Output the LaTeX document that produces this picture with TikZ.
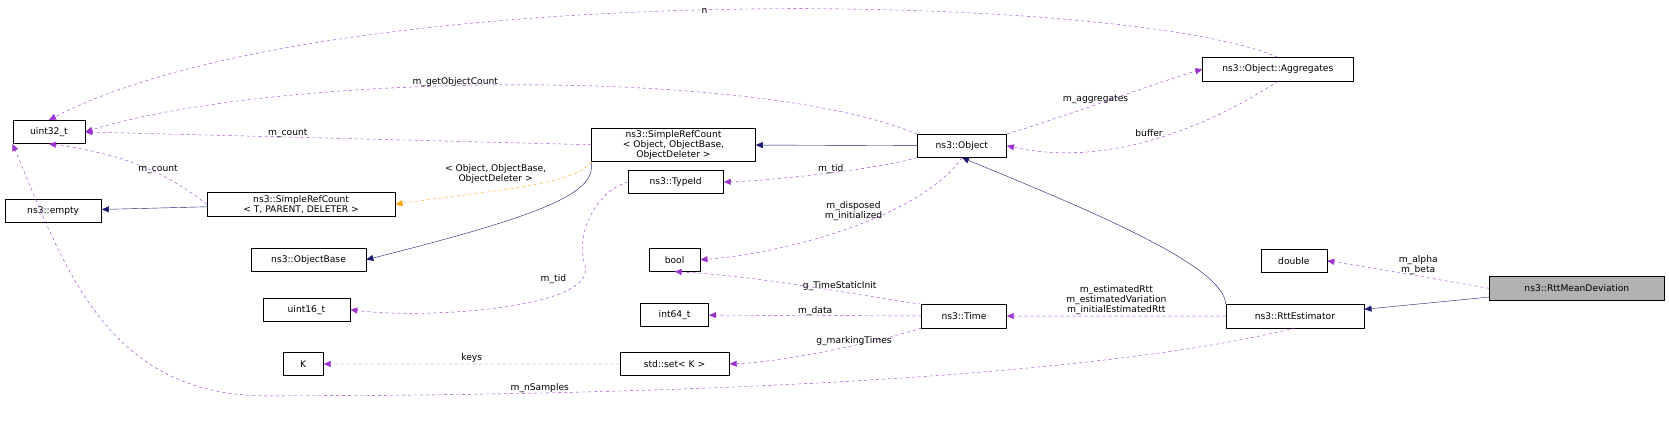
\documentclass[tikz,border=0pt]{standalone}
\usepackage{fontspec}
\setmainfont{DejaVu Sans}
\usetikzlibrary{arrows.meta, positioning}
\definecolor{usecol}{HTML}{9A32CD}
\definecolor{inhcol}{HTML}{191970}
\definecolor{tplcol}{HTML}{FFA500}

\begin{document}
\begin{tikzpicture}[x=1pt,y=-1pt,font=\fontsize{8.6}{9.6}\selectfont]
    \tikzstyle{cls}=[draw=black,fill=white,inner sep=2pt,align=center,minimum height=22pt]
    \tikzstyle{use}=[usecol,dashed,-{Triangle[length=7pt,width=6pt]}]
    \tikzstyle{inh}=[inhcol,-{Triangle[length=7pt,width=6pt]}]
    \tikzstyle{tpl}=[tplcol,dashed,-{Triangle[length=7pt,width=6pt]}]
    \tikzstyle{lbl}=[black,align=center,inner sep=1pt]
    \useasboundingbox (0,0) rectangle (1669,421);
  \begin{scope}[scale=1.064,transform shape]
    \node[cls,minimum width=68pt] (u32) at (46,124) {uint32\_t};
    \node[cls,minimum width=91pt] (empty) at (50,198) {ns3::empty};
    \node[cls,minimum width=177pt] (srct) at (283,192) {ns3::SimpleRefCount\\< T, PARENT, DELETER >};
    \node[cls,minimum width=108pt] (obase) at (290,244) {ns3::ObjectBase};
    \node[cls,minimum width=82pt] (u16) at (288,291) {uint16\_t};
    \node[cls,minimum width=38pt] (k) at (285,342) {K};
    \node[cls,minimum width=154pt] (srco) at (633,136) {ns3::SimpleRefCount\\< Object, ObjectBase,\\ObjectDeleter >};
    \node[cls,minimum width=90pt] (tid) at (635,171) {ns3::TypeId};
    \node[cls,minimum width=48pt] (bool) at (634,244) {bool};
    \node[cls,minimum width=64pt] (i64) at (634,296) {int64\_t};
    \node[cls,minimum width=103pt] (set) at (634,342) {std::set< K >};
    \node[cls,minimum width=84pt] (obj) at (904,137) {ns3::Object};
    \node[cls,minimum width=80pt] (time) at (906,297) {ns3::Time};
    \node[cls,minimum width=142pt] (agg) at (1201,65) {ns3::Object::Aggregates};
    \node[cls,minimum width=62pt] (dbl) at (1216,245) {double};
    \node[cls,minimum width=130pt] (rtt) at (1217,297) {ns3::RttEstimator};
    \node[cls,minimum width=165pt,fill=black!30] (rmd) at (1482,271) {ns3::RttMeanDeviation};

    % inheritance
    \draw[inh] (rmd) -- (rtt);
    \draw[inh] (rtt.north west) .. controls (1150,250) and (1030,200) .. (obj.south);
    \draw[inh] (obj) -- (srco);
    \draw[inh] (srco.south west) .. controls (560,180) and (520,200) .. (obase.east);
    \draw[inh] (srct) -- (empty);
    \draw[tpl] (srco.south west) .. controls (540,175) and (450,180) .. (srct.east)
        node[lbl,pos=0.6,above=6pt] {< Object, ObjectBase,\\ObjectDeleter >};

    % members
    \draw[use] (rmd.west) .. controls (1360,264) and (1290,252) .. (dbl.east)
        node[lbl,pos=0.45,above] {m\_alpha\\m\_beta};
    \draw[use] (rtt) -- (time) node[lbl,midway,above] {m\_estimatedRtt\\m\_estimatedVariation\\m\_initialEstimatedRtt};
    \draw[use] (rtt.south) .. controls (1050,350) and (700,372) .. (250,372)
        node[lbl,pos=0.8,above=-1pt] {m\_nSamples}
        .. controls (100,372) and (60,250) .. (u32.south west);
    \draw[use] (time.north west) .. controls (820,280) and (720,260) .. (bool.south)
        node[lbl,pos=0.4,above] {g\_TimeStaticInit};
    \draw[use] (time) -- (i64) node[lbl,midway,above=-1pt] {m\_data};
    \draw[use] (time.south west) .. controls (830,320) and (740,340) .. (set.east)
        node[lbl,pos=0.4,above=-1pt] {g\_markingTimes};
    \draw[use] (set) -- (k) node[lbl,midway,above] {keys};
    \draw[use] (obj.south) .. controls (860,210) and (720,240) .. (bool.east)
        node[lbl,pos=0.45,above=4pt] {m\_disposed\\m\_initialized};
    \draw[use] (obj.south west) .. controls (820,160) and (720,170) .. (tid.east)
        node[lbl,pos=0.45,above=-2pt] {m\_tid};
    \draw[use] (obj.north west) .. controls (700,60) and (250,70) .. (u32.east)
        node[lbl,pos=0.55,above=-2pt] {m\_getObjectCount};
    \draw[use] (obj.north east) .. controls (1000,110) and (1080,80) .. (agg.west)
        node[lbl,pos=0.45,above] {m\_aggregates};
    \draw[use] (agg.south) .. controls (1150,110) and (1050,160) .. (obj.east)
        node[lbl,pos=0.55,above=2pt] {buffer};
    \draw[use] (agg.north) .. controls (1050,-10) and (300,-20) .. (u32.north)
        node[lbl,pos=0.5,above=-4pt] {n};
    \draw[use] (srco.west) -- (u32.east) node[lbl,pos=0.6,above=-2pt] {m\_count};
    \draw[use] (srct.west) .. controls (160,165) and (120,145) .. (u32.south)
        node[lbl,pos=0.4,above=-1pt] {m\_count};
    \draw[use] (tid.west) .. controls (560,180) and (540,220) .. (550,250)
        .. controls (560,290) and (400,300) .. (u16.east)
        node[lbl,pos=0.3,above=10pt] {m\_tid};
  \end{scope}
\end{tikzpicture}
\end{document}
